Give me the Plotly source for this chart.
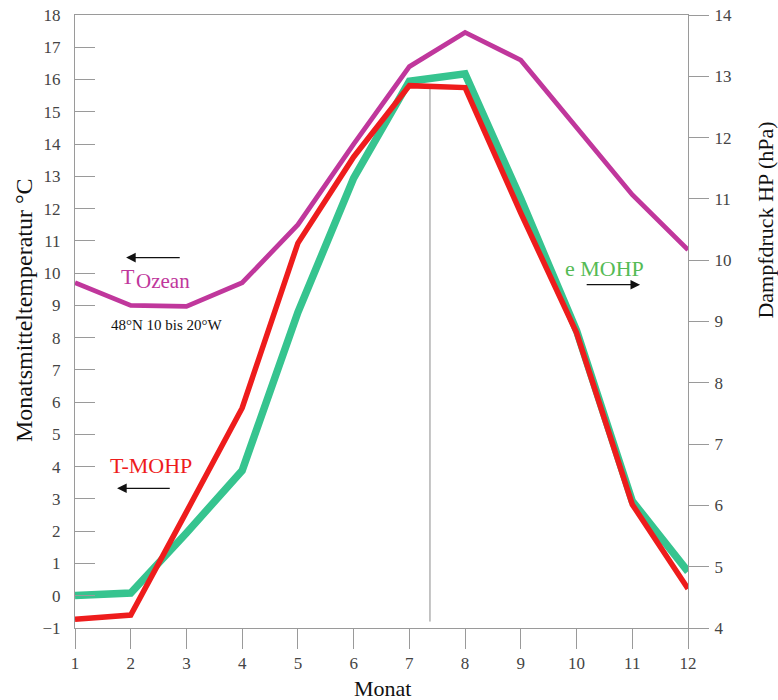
import plotly.graph_objects as go

months = list(range(1, 13))
month_labels = [str(m) for m in months]

# Sea temperature 48°N 10-20°W (°C, left axis)
t_ozean = [9.7, 9.0, 8.97, 9.7, 11.5, 14.0, 16.4, 17.46, 16.6, 14.5, 12.43, 10.72]
# Monthly mean temperature Hohenpeißenberg (°C, left axis)
t_mohp = [-0.73, -0.6, 2.6, 5.82, 10.93, 13.6, 15.81, 15.75, 11.86, 8.15, 2.83, 0.22]
# Vapour pressure Hohenpeißenberg (hPa, right axis)
e_mohp = [4.53, 4.57, 5.55, 6.57, 9.15, 11.34, 12.92, 13.04, 11.0, 8.85, 6.07, 4.92]

# vertical marker line (month position, temperature extent)
marker_x = [7.37, 7.37]
marker_y = [15.8, -0.8]

left_ticks = list(range(-1, 19))
right_ticks = list(range(4, 15))

FONT = "Liberation Serif, Times New Roman, serif"
MAG = "#c0379c"
RED = "#ee1c1c"
GRN = "#36c48f"
AXC = "#9a9a9a"

fig = go.Figure()

# green on 'y' (right axis, drawn underneath)
fig.add_trace(go.Scatter(x=months, y=e_mohp, mode="lines", yaxis="y",
                         line=dict(color=GRN, width=7.5), showlegend=False))
# left-axis series on 'y2' (overlaying, drawn on top)
fig.add_trace(go.Scatter(x=marker_x, y=marker_y, mode="lines", yaxis="y2",
                         line=dict(color="#8a8a8a", width=1), showlegend=False))
fig.add_trace(go.Scatter(x=months, y=t_mohp, mode="lines", yaxis="y2",
                         line=dict(color=RED, width=5.5), showlegend=False))
fig.add_trace(go.Scatter(x=months, y=t_ozean, mode="lines", yaxis="y2",
                         line=dict(color=MAG, width=4.8), showlegend=False))

tickfont = dict(family=FONT, size=17, color="#444")

fig.update_layout(
    width=778, height=700,
    margin=dict(l=75, r=90, t=15, b=72),
    plot_bgcolor="white", paper_bgcolor="white",
    font=dict(family=FONT),
    xaxis=dict(range=[1, 12], tickvals=months, ticktext=month_labels,
               ticks="outside", ticklen=20, tickcolor=AXC, tickwidth=1,
               showline=True, linecolor=AXC, linewidth=1, mirror=True,
               showgrid=False, zeroline=False, tickfont=tickfont,
               ticklabelstandoff=0, automargin=False,
               ticklabeloverflow="allow"),
    yaxis=dict(range=[4, 14], tickvals=right_ticks, side="right",
               ticks="outside", ticklen=20, tickcolor=AXC, tickwidth=1,
               showline=True, linecolor=AXC, linewidth=1,
               showgrid=False, zeroline=False, tickfont=tickfont,
               ticklabelstandoff=2, automargin=False,
               ticklabeloverflow="allow"),
    yaxis2=dict(range=[-1, 18], tickvals=left_ticks, side="left",
                overlaying="y", anchor="x",
                ticks="inside", ticklen=20, tickcolor=AXC, tickwidth=1,
                showline=True, linecolor=AXC, linewidth=1,
                showgrid=False, zeroline=False, tickfont=tickfont,
                ticklabelstandoff=10, automargin=False,
                ticklabeloverflow="allow"),
)

ann = []
# axis titles
ann.append(dict(text="Monatsmitteltemperatur °C", xref="paper", yref="paper",
                x=-0.083, y=0.519, xanchor="center", yanchor="middle",
                textangle=-90, showarrow=False,
                font=dict(family=FONT, size=24, color="#111")))
ann.append(dict(text="Dampfdruck HP (hPa)", xref="paper", yref="paper",
                x=1.127, y=0.666, xanchor="center", yanchor="middle",
                textangle=-90, showarrow=False,
                font=dict(family=FONT, size=22, color="#111")))
ann.append(dict(text="Monat", xref="paper", yref="paper",
                x=0.502, y=-0.098, xanchor="center", yanchor="middle",
                showarrow=False,
                font=dict(family=FONT, size=22, color="#111")))
# series labels
ann.append(dict(text="T", xref="x", yref="y2", x=2.097, y=9.89, xanchor="right",
                borderpad=0, showarrow=False,
                font=dict(family=FONT, size=22, color=MAG)))
ann.append(dict(text="Ozean", xref="x", yref="y2", x=2.085, y=9.75, xanchor="left",
                borderpad=0, showarrow=False,
                font=dict(family=FONT, size=21, color=MAG)))
ann.append(dict(text="48°N 10 bis 20°W", xref="x", yref="y2", x=2.655, y=8.40,
                showarrow=False, font=dict(family=FONT, size=15, color="#111")))
ann.append(dict(text="T-MOHP", xref="x", yref="y2", x=2.37, y=4.04,
                showarrow=False, font=dict(family=FONT, size=22, color=RED)))
ann.append(dict(text="e MOHP", xref="x", yref="y2", x=10.51, y=10.14,
                showarrow=False, font=dict(family=FONT, size=22, color="#55bb55")))
# arrows
for hx, tx, yy in [(1.917, 2.906, 10.48), (1.755, 2.727, 3.33), (11.14, 10.155, 9.64)]:
    ann.append(dict(text="", xref="x", yref="y2", x=hx, y=yy,
                    axref="x", ayref="y2", ax=tx, ay=yy, showarrow=True,
                    arrowhead=2, arrowsize=1.6, arrowwidth=1.2,
                    arrowcolor="#111", standoff=0, startstandoff=0))
fig.update_layout(annotations=ann)

fig.write_html(
    "out.html",
    config={"displayModeBar": False},
    post_script="document.body.style.margin='0px';document.body.style.overflow='hidden';",
)
